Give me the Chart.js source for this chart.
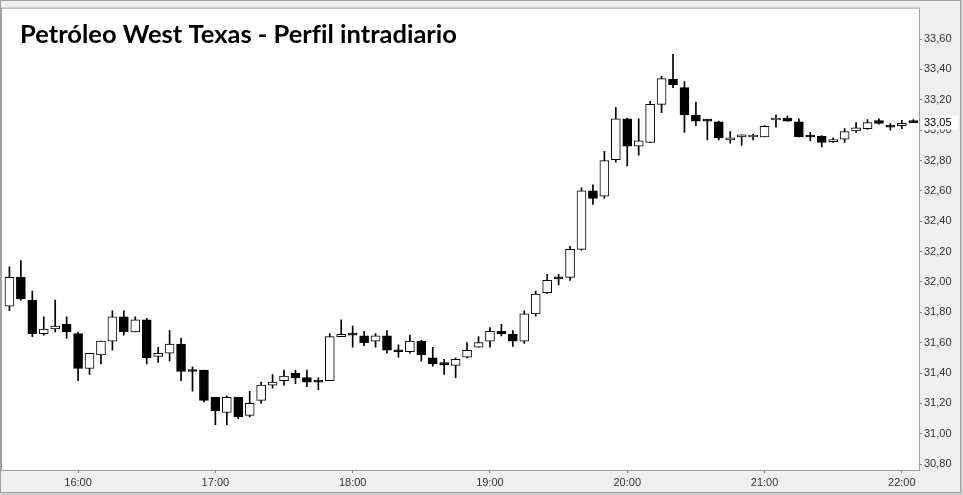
<!DOCTYPE html>
<html><head><meta charset="utf-8">
<script src="https://cdn.jsdelivr.net/npm/chart.js@4.4.1/dist/chart.umd.min.js"></script>
<style>html,body{margin:0;padding:0;background:#f0f0f0;overflow:hidden}canvas{display:block}</style>
</head><body>
<canvas id="c" width="963" height="495"></canvas>
<script>
const titleText = "Petróleo West Texas - Perfil intradiario";
const times = ["15:30","15:35","15:40","15:45","15:50","15:55",
"16:00","16:05","16:10","16:15","16:20","16:25","16:30","16:35","16:40","16:45","16:50","16:55",
"17:00","17:05","17:10","17:15","17:20","17:25","17:30","17:35","17:40","17:45","17:50","17:55",
"18:00","18:05","18:10","18:15","18:20","18:25","18:30","18:35","18:40","18:45","18:50","18:55",
"19:00","19:05","19:10","19:15","19:20","19:25","19:30","19:35","19:40","19:45","19:50","19:55",
"20:00","20:05","20:10","20:15","20:20","20:25","20:30","20:35","20:40","20:45","20:50","20:55",
"21:00","21:05","21:10","21:15","21:20","21:25","21:30","21:35","21:40","21:45","21:50","21:55",
"22:00","22:05"];
const openP = [31.84,32.03,31.88,31.66,31.69,31.72,31.66,31.43,31.52,31.61,31.77,31.67,31.75,31.51,31.53,31.59,31.42,31.42,31.24,31.14,
31.24,31.12,31.22,31.32,31.35,31.40,31.37,31.345,31.35,31.64,31.655,31.645,31.61,31.645,31.545,31.54,31.61,31.50,31.46,31.45,
31.505,31.57,31.61,31.675,31.655,31.61,31.79,31.93,32.025,32.03,32.215,32.60,32.565,32.805,33.075,32.895,32.92,33.17,33.335,33.28,
33.10,33.065,33.055,32.935,32.955,32.955,32.955,33.067,33.08,33.055,32.96,32.96,32.925,32.94,32.995,33.01,33.063,33.025,33.03,33.06];
const highP = [32.10,32.14,31.94,31.77,31.88,31.77,31.67,31.53,31.61,31.81,31.81,31.77,31.76,31.57,31.68,31.63,31.44,31.42,31.24,31.25,
31.24,31.28,31.34,31.39,31.42,31.42,31.42,31.37,31.66,31.75,31.71,31.675,31.66,31.68,31.585,31.65,31.615,31.57,31.49,31.50,
31.60,31.64,31.70,31.72,31.68,31.81,31.94,32.05,32.05,32.235,32.62,32.64,32.86,33.15,33.08,33.075,33.19,33.355,33.50,33.32,
33.185,33.07,33.06,32.99,32.97,32.975,33.03,33.10,33.095,33.075,32.985,32.965,32.95,33.01,33.05,33.07,33.075,33.045,33.065,33.07];
const lowP = [31.81,31.88,31.64,31.65,31.67,31.63,31.35,31.39,31.46,31.55,31.65,31.67,31.46,31.47,31.48,31.35,31.28,31.21,31.06,31.06,
31.10,31.11,31.20,31.30,31.32,31.33,31.31,31.29,31.35,31.64,31.57,31.58,31.57,31.53,31.505,31.53,31.48,31.445,31.39,31.37,
31.50,31.57,31.57,31.645,31.575,31.595,31.775,31.925,31.98,32.01,32.21,32.51,32.55,32.79,32.765,32.835,32.92,33.115,33.28,32.985,
33.03,32.935,32.935,32.915,32.90,32.935,32.955,33.02,33.06,32.955,32.93,32.89,32.92,32.92,32.985,33.005,33.04,33.00,33.01,33.05];
const closeP = [32.03,31.89,31.66,31.69,31.71,31.67,31.43,31.53,31.61,31.77,31.67,31.75,31.50,31.53,31.59,31.41,31.41,31.22,31.15,31.24,
31.11,31.20,31.32,31.34,31.38,31.37,31.34,31.34,31.64,31.655,31.65,31.60,31.645,31.55,31.54,31.61,31.52,31.46,31.455,31.49,
31.55,31.60,31.675,31.66,31.61,31.79,31.92,32.01,32.02,32.215,32.60,32.55,32.80,33.075,32.895,32.93,33.17,33.34,33.30,33.10,
33.06,33.06,32.95,32.95,32.97,32.96,33.025,33.08,33.06,32.955,32.955,32.92,32.93,32.99,33.015,33.05,33.045,33.02,33.045,33.05];
const yTicks = [30.8,31.0,31.2,31.4,31.6,31.8,32.0,32.2,32.4,32.6,32.8,33.0,33.2,33.4,33.6];

const FONT = '"Liberation Sans", Arial, sans-serif';

const framePlugin = {
  id: 'frame',
  beforeDraw(chart) {
    const ctx = chart.ctx, a = chart.chartArea;
    ctx.save();
    ctx.fillStyle = '#f0f0f0';
    ctx.fillRect(0, 0, chart.width, chart.height);
    ctx.fillStyle = '#d0d0d0';
    ctx.fillRect(961, 0, 2, chart.height);
    ctx.fillRect(0, 493, chart.width, 2);
    ctx.fillStyle = '#ffffff';
    ctx.fillRect(a.left, a.top, a.right - a.left, a.bottom - a.top);
    ctx.restore();
  },
  afterDraw(chart) {
    const ctx = chart.ctx, a = chart.chartArea;
    ctx.save();
    ctx.strokeStyle = '#a0a0a0';
    ctx.lineWidth = 1;
    ctx.strokeRect(0.5, 0.5, 960, 492);
    ctx.strokeRect(a.left - 0.5, a.top - 0.5, a.right - a.left + 1, a.bottom - a.top + 1);
    // title
    ctx.fillStyle = '#000';
    ctx.font = 'bold 25.5px Lato, "Open Sans", sans-serif';
    ctx.textBaseline = 'alphabetic';
    ctx.textAlign = 'left';
    if ('textRendering' in ctx) ctx.textRendering = 'optimizeSpeed';
    ctx.fillText(titleText, 20, 43);
    // last price marker
    const ys = chart.scales.y;
    const last = closeP[closeP.length - 1];
    const y = Math.round(ys.getPixelForValue(last)) - 0.5;
    const r = a.right;
    ctx.fillStyle = '#ffffff';
    ctx.beginPath();
    ctx.moveTo(r + 1, y);
    ctx.lineTo(r + 6, y - 7);
    ctx.lineTo(r + 39, y - 7);
    ctx.lineTo(r + 39, y + 7);
    ctx.lineTo(r + 6, y + 7);
    ctx.closePath();
    ctx.fill();
    ctx.fillStyle = '#000';
    ctx.font = '11px ' + FONT;
    ctx.textBaseline = 'middle';
    ctx.fillText(last.toFixed(2).replace('.', ','), r + 5, y + 0.5);
    ctx.restore();
  }
};

const bodies = times.map((t, i) => ({x: i, y: [Math.min(openP[i], closeP[i]), Math.max(openP[i], closeP[i])]}));
const wicks = times.map((t, i) => ({x: i, y: [lowP[i], highP[i]]}));
const bodyColors = times.map((t, i) => closeP[i] >= openP[i] ? '#ffffff' : '#000000');

new Chart(document.getElementById('c'), {
  type: 'bar',
  data: {
    datasets: [
      {label: 'body', data: bodies, backgroundColor: bodyColors, borderColor: '#000', borderWidth: 1,
       borderSkipped: false, barThickness: 9, minBarLength: 2, grouped: false, order: 0},
      {label: 'wick', data: wicks, backgroundColor: '#000', borderWidth: 0,
       barThickness: 1, grouped: false, order: 1}
    ]
  },
  options: {
    responsive: false, animation: false, devicePixelRatio: 1,
    layout: {padding: {left: 2, top: 2, right: 2, bottom: 3}},
    plugins: {legend: {display: false}, tooltip: {enabled: false}},
    scales: {
      x: {
        type: 'linear', min: -0.65, max: 79.5, offset: false,
        afterBuildTicks: s => { s.ticks = times.map((t, i) => ({value: i, t})).filter(o => o.t.endsWith(':00')).map(o => ({value: o.value})); },
        afterFit: s => { s.height = 22; },
        ticks: {callback: v => times[v], autoSkip: false, maxRotation: 0, padding: 3, color: '#333', font: {family: FONT, size: 11}},
        grid: {offset: false, drawOnChartArea: false, drawTicks: true, tickLength: 3, color: '#808080'},
        border: {display: false}
      },
      y: {
        position: 'right', min: 30.761, max: 33.801,
        afterBuildTicks: s => { s.ticks = yTicks.map(v => ({value: v})); },
        afterFit: s => { s.width = 42; },
        ticks: {callback: v => v.toFixed(2).replace('.', ','), padding: 2, color: '#333', font: {family: FONT, size: 11}},
        grid: {offset: false, drawOnChartArea: false, drawTicks: true, tickLength: 3, color: '#808080'},
        border: {display: false}
      }
    }
  },
  plugins: [framePlugin]
});
</script>
</body></html>
